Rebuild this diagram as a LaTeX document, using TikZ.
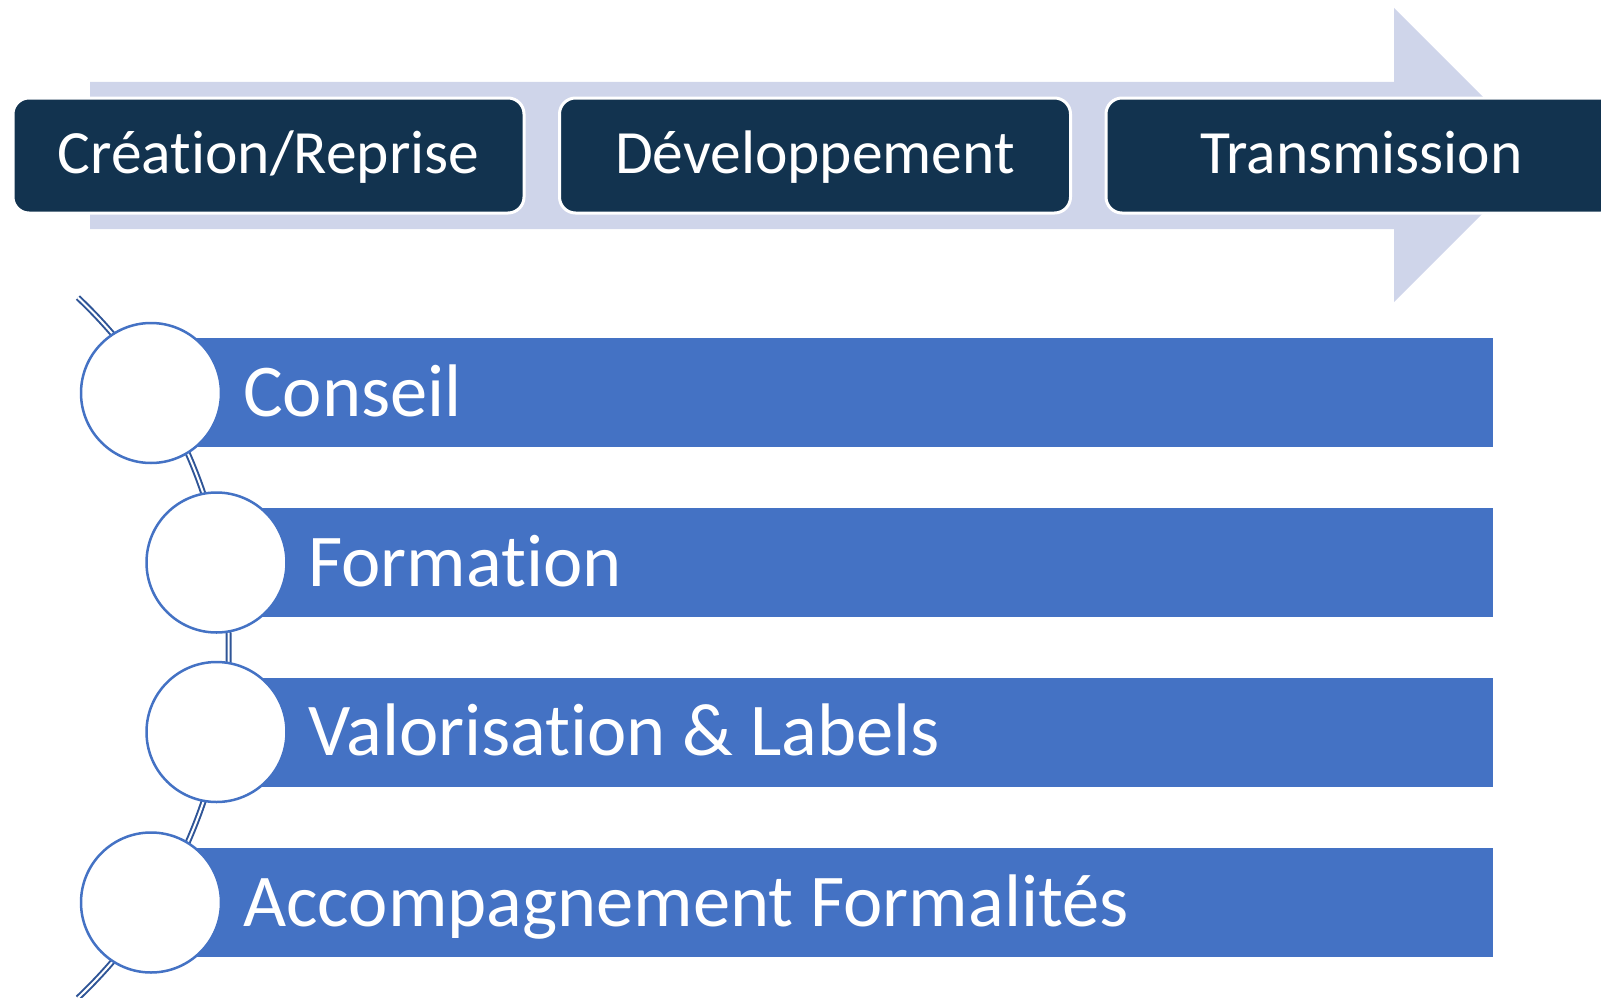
\documentclass[tikz,border=0pt]{standalone}
\usepackage{fontspec}
\setmainfont{Carlito}[Ligatures={NoCommon}]
\definecolor{navy}{HTML}{12334F}
\definecolor{arrowc}{HTML}{CFD5EA}
\definecolor{barc}{HTML}{4472C4}
\definecolor{connc}{HTML}{2F5597}
\tikzset{
  topbox/.style={draw=white, line width=3pt, fill=navy, rounded corners=16pt,
    minimum width=511pt, minimum height=115pt, inner sep=0pt,
    text height=45pt, text depth=10pt, text=white,
    font=\fontsize{61.5}{74}\selectfont},
  barbox/.style={fill=barc, minimum height=109pt, inner sep=0pt, anchor=west},
  bartext/.style={anchor=base west, text=white, inner sep=0pt,
    font=\fontsize{74.5}{88}\selectfont},
  circ/.style={circle, draw=barc, line width=2.5pt, fill=white, minimum size=140pt, inner sep=0pt},
  conn/.style={draw=connc, double=white, line width=2pt, double distance=2pt}
}
\begin{document}
\begin{tikzpicture}[x=1pt,y=-1pt]
\clip (0,0) rectangle (1601,998);
% big arrow
\fill[arrowc] (90,82) -- (1394,82) -- (1394,8) -- (1541,155) -- (1394,302) -- (1394,229) -- (90,229) -- cycle;
% top boxes
\node[topbox] (b1) at (268.5,155.5) {Création/Reprise};
\node[topbox] (b2) at (815,155.5) {Développement};
\node[topbox] (b3) at (1361.5,155.5) {Transmission};
% bars
\node[barbox, minimum width=1342pt] (r1) at (151,392.5) {};
\node[barbox, minimum width=1276.5pt] (r2) at (216.5,562.5) {};
\node[barbox, minimum width=1276.5pt] (r3) at (216.5,732) {};
\node[barbox, minimum width=1342pt] (r4) at (151,902.5) {};
% curved connector
\coordinate (top) at (77.9,297.6);
\draw[conn] (top) arc[start angle=-46.6, end angle=46.6, radius=482];
% circles
\node[circ] (c1) at (151,393) {};
\node[circ] (c2) at (216.5,562.5) {};
\node[circ] (c3) at (216.5,732) {};
\node[circ] (c4) at (151,902.5) {};
% texts
\node[bartext] (t1) at (243,416) {Conseil};
\node[bartext] (t2) at (308,586) {Formation};
\node[bartext] (t3) at (308,755.5) {Valorisation \& Labels};
\node[bartext] (t4) at (243,926) {Accompagnement Formalités};
\end{tikzpicture}
\end{document}
